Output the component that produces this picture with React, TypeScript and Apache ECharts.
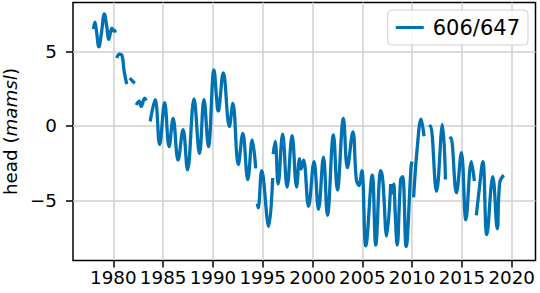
import React, { useEffect, useRef } from 'react';
import * as echarts from 'echarts';

const seriesName = '606/647';
const xTicks = [1980, 1985, 1990, 1995, 2000, 2005, 2010, 2015, 2020];
const yTicks = [-5, 0, 5];

// decimal years; null marks a gap in the record
const years: number[] = [
  1978.0, 1978.15, 1978.3, 1978.55, 1978.8, 1979.1, 1979.35, 1979.55, 1979.85, 1980.05, 1980.3, 1980.32,
  1980.35, 1980.6, 1980.85, 1981.1, 1981.35, 1981.5,
  1981.65, 1982.15, 1982.2,
  1982.3, 1982.6, 1982.8, 1983.15, 1983.3, 1983.5,
  1983.7, 1984.2, 1984.65, 1985.15, 1985.6, 1986.0, 1986.5, 1987.0, 1987.45, 1988.1, 1988.65, 1989.1,
  1989.55, 1990.1, 1990.4, 1990.5, 1990.6, 1991.05, 1991.65, 1992.0, 1992.55, 1993.0, 1993.5, 1993.95,
  1994.3, 1994.4,
  1994.45, 1994.55, 1994.9, 1995.6, 1996.0, 1996.02,
  1996.05, 1996.25, 1996.55, 1997.0, 1997.45, 1997.95, 1998.4, 1998.7, 1998.85, 1999.1, 1999.6, 2000.15,
  2000.6, 2001.1, 2001.5, 2002.1, 2002.5, 2003.1, 2003.5, 2004.05, 2004.4, 2004.65, 2004.95, 2005.35,
  2006.0, 2006.35, 2006.85, 2007.05, 2007.45, 2007.85, 2007.92,
  2008.0, 2008.15, 2008.3, 2008.5, 2008.85, 2009.05, 2009.4, 2009.9, 2010.0, 2010.07,
  2010.15, 2010.5, 2010.9, 2011.2, 2011.5,
  2011.75, 2011.85, 2012.45, 2013.05, 2013.35, 2013.6,
  2013.8, 2013.9, 2014.45, 2014.95, 2015.4, 2015.95, 2016.25, 2016.35,
  2016.45, 2016.7, 2017.1, 2017.5, 2018.1, 2018.55, 2018.8, 2019.2,
];
const heads: (number | null)[] = [
  6.5, 6.95, 6.4, 5.3, 6.2, 7.5, 6.6, 5.8, 6.55, 6.35, 6.4, null,
  4.55, 4.8, 4.75, 3.6, 2.8, null,
  3.2, 2.85, null,
  1.4, 1.65, 1.3, 1.85, 1.7, null,
  0.3, 1.75, -1.25, 1.55, -1.4, 0.5, -2.3, -0.25, -2.95, 1.8, -1.85, 1.75,
  -1.4, 3.75, 1.6, 1.0, 1.1, 3.55, -0.05, 1.5, -2.6, -0.5, -3.6, -0.95,
  -2.85, null,
  -5.2, -5.5, -3.0, -6.75, -3.5, null,
  -1.9, -1.05, -3.9, -0.55, -4.1, -0.65, -4.1, -2.2, -2.9, -2.3, -5.4, -2.4,
  -5.6, -2.1, -6.0, -0.6, -4.3, 0.5, -2.8, -0.4, -3.6, -4.0, -3.0, -8.05,
  -3.3, -8.0, -3.0, -3.6, -7.4, -3.9, null,
  -4.6, -3.9, -5.8, -8.0, -3.6, -3.4, -8.1, -2.7, -2.4, null,
  -4.8, -1.6, 0.45, -0.7, null,
  -0.1, 0.0, -4.4, 0.1, -3.6, null,
  -0.9, -0.8, -4.5, -1.8, -6.3, -2.4, -3.7, null,
  -6.0, -4.5, -2.4, -7.3, -3.4, -6.9, -3.8, -3.3,
];

const FONT = 'DejaVu Sans';
const FS = 18.3;
const LFS = 21;

export default function App() {
  const ref = useRef<HTMLDivElement>(null);
  useEffect(() => {
    document.body.style.margin = '0';
    const chart = echarts.init(ref.current!, null, { renderer: 'svg' });
    const data = years.map((y, i) => [y, heads[i] === null ? '-' : heads[i]]);
    chart.setOption({
      animation: false,
      textStyle: { fontFamily: FONT },
      grid: {
        left: 73, right: 4.5, top: 2.5, bottom: 32.5,
        show: true, borderColor: '#000', borderWidth: 1.5,
        outerBoundsMode: 'none',
      },
      xAxis: {
        type: 'value', min: 1975.95, max: 2022.39,
        axisLine: { show: false, onZero: false },
        axisTick: { show: true, customValues: xTicks, length: 7, lineStyle: { color: '#000', width: 1.5 } },
        axisLabel: {
          customValues: xTicks, fontSize: FS, color: '#000', margin: 8, fontFamily: FONT,
          formatter: (v: number) => String(v),
        },
        splitLine: { show: true, lineStyle: { color: '#d0d0d0', width: 1.5 } },
      },
      yAxis: {
        type: 'value', min: -9.03, max: 8.27,
        axisLine: { show: false, onZero: false },
        axisTick: { show: true, customValues: yTicks, length: 7, lineStyle: { color: '#000', width: 1.5 } },
        axisLabel: {
          customValues: yTicks, fontSize: FS, color: '#000', margin: 16, fontFamily: FONT,
          formatter: (v: number) => (v < 0 ? '\u2212' + Math.abs(v) : String(v)),
        },
        splitLine: { show: true, lineStyle: { color: '#d0d0d0', width: 1.5 } },
        name: '{a|head (}{b|mamsl}{a|)}',
        nameLocation: 'middle',
        nameRotate: 90,
        nameGap: 53,
        nameTextStyle: {
          fontSize: FS, color: '#000', fontFamily: FONT,
          rich: {
            a: { fontSize: FS, color: '#000', fontFamily: FONT },
            b: { fontSize: FS, color: '#000', fontFamily: FONT, fontStyle: 'italic' },
          },
        },
      },
      legend: {
        data: [seriesName],
        right: 12, top: 10,
        icon: 'rect', itemWidth: 28, itemHeight: 3,
        padding: [7, 8, 7, 8],
        borderColor: '#d0d0d0', borderWidth: 1, borderRadius: 4,
        backgroundColor: 'rgba(255,255,255,0.8)',
        textStyle: { fontSize: LFS, color: '#000', fontFamily: FONT, padding: [0, 0, 0, 4] },
      },
      series: [
        {
          type: 'line', name: seriesName, data,
          showSymbol: false, symbol: 'none', smooth: 0.4, connectNulls: false,
          lineStyle: { color: '#0072B2', width: 3.3 },
          itemStyle: { color: '#0072B2' },
        },
      ],
    });
    return () => chart.dispose();
  }, []);
  return <div ref={ref} style={{ position: 'absolute', left: 0, top: 0, width: 540, height: 293 }} />;
}
